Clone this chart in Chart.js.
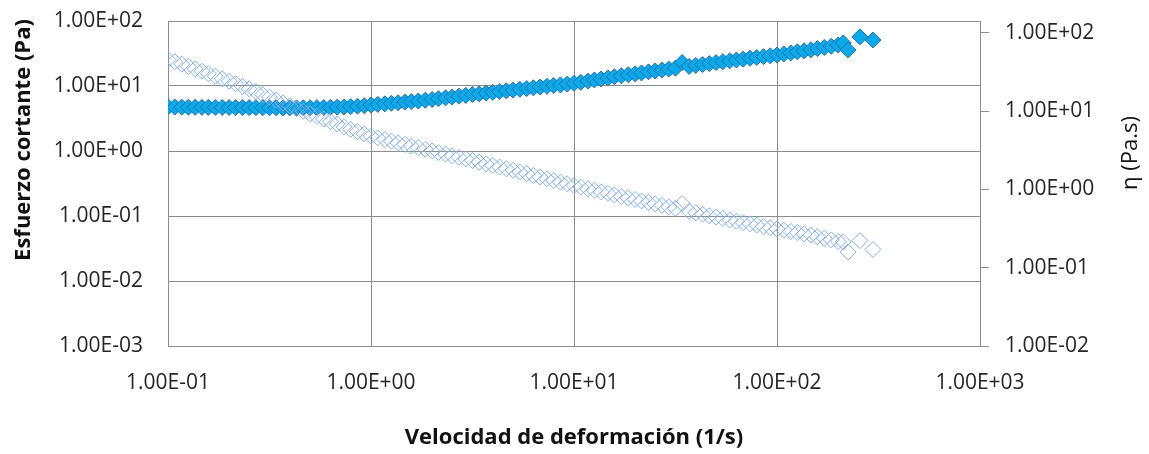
<!DOCTYPE html>
<html>
<head>
<meta charset="utf-8">
<script src="https://cdn.jsdelivr.net/npm/chart.js@4/dist/chart.umd.min.js"></script>
<style>
  body { margin: 0; background: #fff; }
  canvas { display: block; }
</style>
</head>
<body>
<canvas id="grafico" width="1149" height="454"></canvas>
<script>
// velocidad de deformacion (1/s)
const shearRate = [
  0.100, 0.108, 0.117, 0.126, 0.136, 0.147, 0.158, 0.171, 0.185, 0.200,
  0.215, 0.233, 0.251, 0.271, 0.293, 0.316, 0.341, 0.369, 0.398, 0.430,
  0.464, 0.501, 0.541, 0.585, 0.631, 0.681, 0.736, 0.794, 0.858, 0.926,
  1.00, 1.08, 1.17, 1.26, 1.36, 1.47, 1.58, 1.71, 1.85, 2.00,
  2.15, 2.33, 2.51, 2.71, 2.93, 3.16, 3.41, 3.69, 3.98, 4.30,
  4.64, 5.01, 5.41, 5.85, 6.31, 6.81, 7.36, 7.94, 8.58, 9.26,
  10.0, 10.8, 11.7, 12.6, 13.6, 14.7, 15.8, 17.1, 18.5, 20.0,
  21.5, 23.3, 25.1, 27.1, 29.3, 31.6, 34.1, 36.9, 39.8, 43.0,
  46.4, 50.1, 54.1, 58.5, 63.1, 68.1, 73.6, 79.4, 85.8, 92.6,
  100, 108, 117, 126, 136, 147, 158, 171, 185, 200,
  212, 224, 256, 297
];

// esfuerzo cortante (Pa)
const shearStress = [
  4.78, 4.74, 4.72, 4.71, 4.70, 4.69, 4.69, 4.68, 4.67, 4.67,
  4.66, 4.65, 4.65, 4.64, 4.63, 4.62, 4.61, 4.60, 4.60, 4.60,
  4.61, 4.62, 4.64, 4.66, 4.69, 4.72, 4.77, 4.82, 4.89, 4.98,
  5.10, 5.21, 5.31, 5.42, 5.53, 5.65, 5.76, 5.88, 6.04, 6.21,
  6.38, 6.58, 6.76, 6.97, 7.16, 7.38, 7.57, 7.78, 7.98, 8.20,
  8.43, 8.65, 8.89, 9.14, 9.38, 9.63, 9.89, 10.2, 10.4, 10.7,
  11.0, 11.4, 11.9, 12.4, 12.8, 13.3, 13.9, 14.4, 14.9, 15.4,
  15.9, 16.5, 17.0, 17.6, 18.2, 18.8, 23.0, 20.0, 20.7, 21.4,
  22.1, 22.9, 23.7, 24.4, 25.1, 25.9, 26.7, 27.5, 28.3, 29.1,
  30.0, 31.1, 32.3, 33.5, 34.8, 36.1, 37.6, 39.2, 40.9, 42.7,
  46.0, 35.8, 57.0, 51.0
];

// viscosidad (Pa.s)
const viscosity = [
  45.7, 42.8, 39.9, 37.2, 34.8, 32.4, 30.1, 28.0, 25.9, 24.1,
  22.4, 20.7, 19.3, 17.8, 16.3, 15.1, 13.9, 12.7, 11.7, 10.8,
  9.98, 9.25, 8.57, 7.93, 7.36, 6.82, 6.31, 5.85, 5.48, 5.12,
  4.79, 4.56, 4.34, 4.15, 3.95, 3.77, 3.59, 3.42, 3.26, 3.11,
  2.97, 2.83, 2.70, 2.57, 2.45, 2.34, 2.23, 2.12, 2.03, 1.93,
  1.84, 1.76, 1.67, 1.59, 1.51, 1.44, 1.37, 1.30, 1.24, 1.18,
  1.12, 1.07, 1.02, 0.977, 0.933, 0.891, 0.851, 0.813, 0.778, 0.745,
  0.714, 0.682, 0.655, 0.627, 0.600, 0.574, 0.660, 0.526, 0.504, 0.483,
  0.461, 0.443, 0.425, 0.408, 0.394, 0.378, 0.364, 0.351, 0.338, 0.325,
  0.313, 0.302, 0.291, 0.281, 0.271, 0.261, 0.249, 0.238, 0.227, 0.216,
  0.214, 0.159, 0.222, 0.171
];

const xTicks = [0.1, 1, 10, 100, 1000];
const xTickLabels = ['1.00E-01', '1.00E+00', '1.00E+01', '1.00E+02', '1.00E+03'];
const yTicks = [0.001, 0.01, 0.1, 1, 10, 100];
const yTickLabels = ['1.00E-03', '1.00E-02', '1.00E-01', '1.00E+00', '1.00E+01', '1.00E+02'];
const y2Ticks = [0.01, 0.1, 1, 10, 100];
const y2TickLabels = ['1.00E-02', '1.00E-01', '1.00E+00', '1.00E+01', '1.00E+02'];

const fuente = 'Open Sans';
const gris = '#8c8c8c';
const fuenteTicks = { family: fuente, size: 21 };

// titulos de los ejes, dibujados a mano para poder ubicarlos
const titulosEjes = {
  id: 'titulosEjes',
  afterDraw(chart) {
    const ctx = chart.ctx;
    ctx.save();
    ctx.fillStyle = '#111';
    ctx.textAlign = 'center';
    ctx.textBaseline = 'middle';

    ctx.font = 'bold 22px "' + fuente + '"';
    ctx.fillText('Velocidad de deformación (1/s)', 574, 438);

    ctx.save();
    ctx.translate(24, 140);
    ctx.rotate(-Math.PI / 2);
    ctx.fillText('Esfuerzo cortante (Pa)', 0, 0);
    ctx.restore();

    ctx.font = '22px "' + fuente + '"';
    ctx.translate(1131, 153);
    ctx.rotate(-Math.PI / 2);
    ctx.fillText('η (Pa.s)', 0, 0);
    ctx.restore();
  }
};

function soloPotencias(valores) {
  return scale => { scale.ticks = valores.map(v => ({ value: v })); };
}

// ancho fijo del eje y sin el relleno extra que chart.js pone arriba y abajo
function anchoFijo(ancho) {
  return scale => {
    scale.width = ancho;
    scale.paddingTop = 0;
    scale.paddingBottom = 0;
  };
}

const ctx = document.getElementById('grafico').getContext('2d');
new Chart(ctx, {
  type: 'scatter',
  data: {
    datasets: [
      {
        label: 'Viscosidad',
        data: shearRate.map((x, i) => ({ x: x, y: viscosity[i] })),
        yAxisID: 'y2',
        order: 0,
        pointStyle: 'rectRot',
        pointRadius: 8,
        backgroundColor: 'rgba(0,0,0,0)',
        borderColor: '#86ade3',
        borderWidth: 1
      },
      {
        label: 'Esfuerzo',
        data: shearRate.map((x, i) => ({ x: x, y: shearStress[i] })),
        yAxisID: 'y',
        order: 1,
        pointStyle: 'rectRot',
        pointRadius: 8,
        backgroundColor: '#0ba9ea',
        borderColor: '#2a6fa8',
        borderWidth: 1
      }
    ]
  },
  options: {
    responsive: false,
    animation: false,
    layout: { padding: { top: 21, left: 0, right: 0, bottom: 0 } },
    plugins: {
      legend: { display: false },
      tooltip: { enabled: false }
    },
    scales: {
      x: {
        type: 'logarithmic',
        position: 'bottom',
        min: 0.1,
        max: 1000,
        afterBuildTicks: soloPotencias(xTicks),
        afterFit: s => { s.height = 108; },
        ticks: {
          autoSkip: false,
          maxRotation: 0,
          padding: 24,
          color: '#262626',
          font: fuenteTicks,
          callback: v => xTickLabels[xTicks.indexOf(v)]
        },
        grid: { color: gris, drawTicks: false },
        border: { color: gris }
      },
      y: {
        type: 'logarithmic',
        position: 'left',
        min: 0.001,
        max: 100,
        afterBuildTicks: soloPotencias(yTicks),
        afterFit: anchoFijo(168),
        ticks: {
          autoSkip: false,
          padding: 25,
          color: '#262626',
          font: fuenteTicks,
          callback: v => yTickLabels[yTicks.indexOf(v)]
        },
        grid: { color: gris, drawTicks: false },
        border: { color: gris }
      },
      y2: {
        type: 'logarithmic',
        position: 'right',
        min: 0.01,
        max: 142,
        afterBuildTicks: soloPotencias(y2Ticks),
        afterFit: anchoFijo(169),
        ticks: {
          autoSkip: false,
          padding: 16,
          color: '#262626',
          font: fuenteTicks,
          callback: v => y2TickLabels[y2Ticks.indexOf(v)]
        },
        grid: { color: gris, drawOnChartArea: false, drawTicks: true, tickLength: 9 },
        border: { color: gris }
      }
    }
  },
  plugins: [titulosEjes]
});
</script>
</body>
</html>
